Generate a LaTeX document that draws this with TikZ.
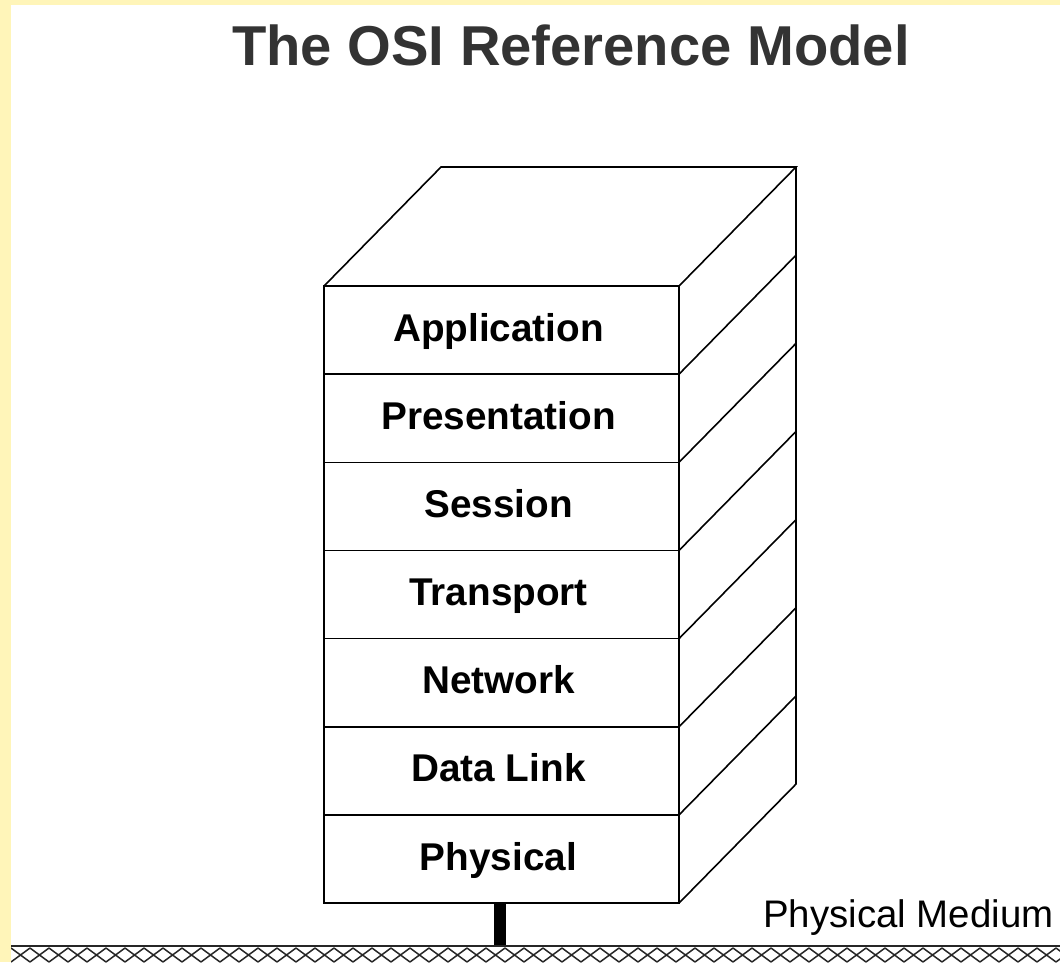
\documentclass[tikz,border=0pt]{standalone}
\usepackage{fontspec}
\setmainfont{Liberation Sans}
\usepackage{tikz}
\usetikzlibrary{positioning}
\definecolor{paper}{RGB}{255,245,185}
\definecolor{titlegray}{RGB}{51,51,51}

\begin{document}
\begin{tikzpicture}[x=1pt, y=-1pt, line join=miter,
  layer/.style={rectangle, draw, line width=1.6pt, minimum width=355pt, minimum height=88.15pt,
    inner sep=0pt, outer sep=0pt, text height=28pt, text depth=6pt,
    font=\fontsize{38.7}{40}\selectfont\bfseries},
  edge line/.style={line width=1.6pt}]

\useasboundingbox (0,0) rectangle (1060,962);
\fill[paper] (0,0) rectangle (1060,962);
\fill[white] (11,5) rectangle (1060,962);

\node[titlegray, font=\fontsize{56.2}{58}\selectfont\bfseries, anchor=base] (title) at (571,65) {The OSI Reference Model};

\node[layer] (app) at (501.5,330.1) {\hspace*{-6pt}Application};
\node[layer] (pres) [below=0pt of app] {\hspace*{-6pt}Presentation};
\node[layer] (sess) [below=0pt of pres] {\hspace*{-6pt}Session};
\node[layer] (trans) [below=0pt of sess] {\hspace*{-6pt}Transport};
\node[layer] (net) [below=0pt of trans] {\hspace*{-6pt}Network};
\node[layer] (link) [below=0pt of net] {\hspace*{-6pt}Data Link};
\node[layer] (phys) [below=0pt of link] {\hspace*{-6pt}Physical};

% top face and side of the stack
\coordinate (backleft) at ([shift={(117,-119)}]app.north west);
\coordinate (backright) at ([shift={(117,-119)}]app.north east);
\coordinate (backbottom) at ([shift={(117,-119)}]phys.south east);
\draw[edge line] (app.north west) -- (backleft) -- (backright) -- (app.north east);
\draw[edge line] (backright) -- (backbottom) -- (phys.south east);
\foreach \n in {pres,sess,trans,net,link,phys}
  \draw[edge line] (\n.north east) -- ++(117,-119);

% medium
\coordinate (medium) at (500,946);
\node[font=\fontsize{38.4}{40}\selectfont, anchor=base west, inner sep=0pt] (mediumlabel) at (763,927) {Physical Medium};
\draw[line width=12pt] (phys.south -| medium) -- (medium);
\draw[line width=2.2pt, black!85] (11,946) -- (1060,946);
\begin{scope}
  \clip (11,947) rectangle (1060,962);
  \foreach \i in {0,...,55}
    \draw[line width=1.5pt, black!85] (11+19*\i,948) -- (30+19*\i,962) (30+19*\i,948) -- (11+19*\i,962);
\end{scope}

\end{tikzpicture}
\end{document}
